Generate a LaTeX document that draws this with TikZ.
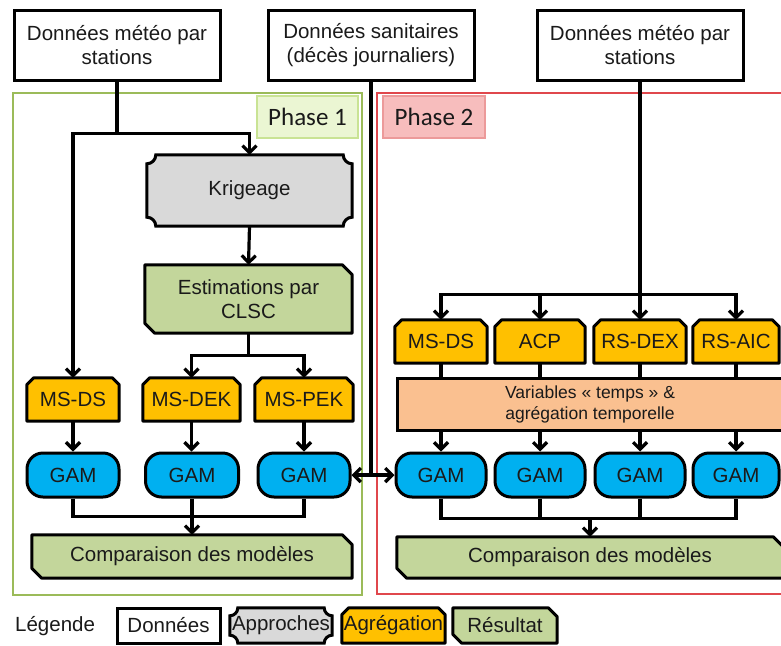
\documentclass[tikz,border=0pt]{standalone}
\usepackage{fontspec}
\setmainfont{Liberation Sans}
\newfontfamily\phasefont{Carlito}
\usetikzlibrary{arrows.meta,backgrounds,calc}
\pgfdeclarelayer{framelayer}
\pgfsetlayers{framelayer,background,main}
\definecolor{cOrange}{HTML}{FFC000}
\definecolor{cPeach}{HTML}{FAC090}
\definecolor{cGreen}{HTML}{C3D69B}
\definecolor{cGray}{HTML}{D9D9D9}
\definecolor{cBlue}{HTML}{00B0F0}
\definecolor{cFrameG}{HTML}{9BBB59}
\definecolor{cFrameR}{HTML}{E0474C}
\definecolor{cPhA}{HTML}{EBF6D3}
\definecolor{cPhAb}{HTML}{C9E394}
\definecolor{cPhB}{HTML}{F7BDBD}
\definecolor{cPhBb}{HTML}{EC9A9A}
\definecolor{cText}{HTML}{1A1A1A}

\newcommand{\plaqueShape}[3]{\path[fill=#2,draw=black,line width=3pt]
  let \p1=(#1.south west), \p2=(#1.north east) in
  ({\x1},{\y1+#3}) -- ({\x1},{\y2-#3}) arc[start angle=-90,end angle=0,radius=#3]
  -- ({\x2-#3},{\y2}) arc[start angle=180,end angle=270,radius=#3]
  -- ({\x2},{\y1+#3}) arc[start angle=90,end angle=180,radius=#3]
  -- ({\x1+#3},{\y1}) arc[start angle=0,end angle=90,radius=#3] -- cycle;}
\newcommand{\snipTop}[3]{\path[fill=#2,draw=black,line width=3pt,line join=round]
  let \p1=(#1.south west), \p2=(#1.north east) in
  (\x1,\y1) -- ({\x1},{\y2-#3}) -- ({\x1+#3},{\y2}) -- ({\x2-#3},{\y2})
  -- ({\x2},{\y2-#3}) -- (\x2,\y1) -- cycle;}
\newcommand{\snipDiag}[3]{\path[fill=#2,draw=black,line width=3pt,line join=round]
  let \p1=(#1.south west), \p2=(#1.north east) in
  (\x1,\y2) -- ({\x2-#3},{\y2}) -- ({\x2},{\y2-#3}) -- (\x2,\y1)
  -- ({\x1+#3},{\y1}) -- ({\x1},{\y1+#3}) -- cycle;}

\tikzset{
  txt/.style={inner sep=0pt, align=center, text=cText, font=\fontsize{20.5}{24}\selectfont},
  databox/.style={txt, draw=black, line width=3pt, fill=white},
  gambox/.style={txt, draw=black, line width=3pt, fill=cBlue, rounded corners=16pt},
  conn/.style={draw=black, line width=3.2pt},
  arr/.style={conn, -{Straight Barb[length=7pt,width=14pt]}},
  darr/.style={conn, {Straight Barb[length=7pt,width=14pt]}-{Straight Barb[length=7pt,width=14pt]}},
  phaselabel/.style={inner sep=0pt, font=\phasefont\fontsize{25}{28}\selectfont, text=cText, line width=1.2pt}
}

\begin{document}
\begin{tikzpicture}[x=1pt,y=-1pt]
\useasboundingbox (0,0) rectangle (781,645);
\clip (0,0) rectangle (781,645);

% frames
\begin{pgfonlayer}{framelayer}
\fill[white] (0,0) rectangle (781,645);
\draw[cFrameG, line width=2.4pt] (13,93) rectangle (362,595);
\draw[cFrameR, line width=2.4pt] (377,93) rectangle (800,594);
\end{pgfonlayer}
\node[phaselabel, fill=cPhA, draw=cPhAb, minimum width=101pt, minimum height=42pt] (ph1) at (307.5,117) {Phase 1};
\node[phaselabel, fill=cPhB, draw=cPhBb, minimum width=102pt, minimum height=42pt] (ph2) at (434,117) {Phase 2};

% data boxes
\node[databox, minimum width=206pt, minimum height=70pt] (d1) at (117,45) {Données météo par\\stations};
\node[databox, minimum width=206pt, minimum height=70pt] (d2) at (371,45) {Données sanitaires\\(décès journaliers)};
\node[databox, minimum width=206pt, minimum height=70pt] (d3) at (640,45) {Données météo par\\stations};

% phase 1
\node[txt, minimum width=205pt, minimum height=71pt] (krig) at (249.5,190.5) {Krigeage};
\node[txt, minimum width=207pt, minimum height=68pt] (est) at (248.5,299) {Estimations par\\CLSC};
\node[txt, minimum width=92pt, minimum height=43pt] (msds1) at (73,399.5) {MS-DS};
\node[txt, minimum width=97pt, minimum height=43pt] (msdek) at (191.5,399.5) {MS-DEK};
\node[txt, minimum width=98pt, minimum height=43pt] (mspek) at (304,399.5) {MS-PEK};
\node[gambox, minimum width=92pt, minimum height=44pt] (gam1) at (73,475) {GAM};
\node[gambox, minimum width=93pt, minimum height=44pt] (gam2) at (192,475) {GAM};
\node[gambox, minimum width=92pt, minimum height=44pt] (gam3) at (304,475) {GAM};
\node[txt, minimum width=320pt, minimum height=43pt] (comp1) at (192,556.5) {Comparaison des modèles};

% phase 2
\node[txt, minimum width=92pt, minimum height=43pt] (p2ms) at (441,341.5) {MS-DS};
\node[txt, minimum width=90pt, minimum height=43pt] (acp) at (540,341.5) {ACP};
\node[txt, minimum width=92pt, minimum height=43pt] (rsdex) at (640,341.5) {RS-DEX};
\node[txt, minimum width=86pt, minimum height=43pt] (rsaic) at (736,341.5) {RS-AIC};
\node[txt, draw=black, line width=3pt, fill=cPeach, minimum width=386pt, minimum height=52pt,
      font=\fontsize{17.5}{21}\selectfont] (vars) at (590,404) {Variables « temps » \&\\agrégation temporelle};
\node[gambox, minimum width=90pt, minimum height=44pt] (g5) at (441,475) {GAM};
\node[gambox, minimum width=90pt, minimum height=44pt] (g6) at (540,475) {GAM};
\node[gambox, minimum width=90pt, minimum height=44pt] (g7) at (640,475) {GAM};
\node[gambox, minimum width=86pt, minimum height=44pt] (g8) at (736,475) {GAM};
\node[txt, minimum width=386pt, minimum height=41pt] (comp2) at (590,557.5) {Comparaison des modèles};

% legend
\node[txt, anchor=west] (leg) at (15,626) {Légende};
\node[databox, minimum width=103pt, minimum height=35pt] (ld) at (168.5,625.5) {Données};
\node[txt, minimum width=102pt, minimum height=35pt] (la) at (281,625.5) {Approches};
\node[txt, minimum width=103pt, minimum height=35pt] (lg) at (393.5,625.5) {Agrégation};
\node[txt, minimum width=104pt, minimum height=35pt] (lr) at (505,625.5) {Résultat};

% custom shapes behind texts
\begin{pgfonlayer}{background}
\plaqueShape{krig}{cGray}{9pt}
\snipDiag{est}{cGreen}{10pt}
\snipTop{msds1}{cOrange}{7pt}
\snipTop{msdek}{cOrange}{7pt}
\snipTop{mspek}{cOrange}{7pt}
\snipDiag{comp1}{cGreen}{10pt}
\snipTop{p2ms}{cOrange}{7pt}
\snipTop{acp}{cOrange}{7pt}
\snipTop{rsdex}{cOrange}{7pt}
\snipTop{rsaic}{cOrange}{7pt}
\snipDiag{comp2}{cGreen}{10pt}
\plaqueShape{la}{cGray}{8pt}
\snipTop{lg}{cOrange}{7pt}
\snipDiag{lr}{cGreen}{9pt}
\end{pgfonlayer}

% connectors phase 1
\draw[conn] (d1.south) -- ++(0,52) coordinate (j1);
\draw[arr] (j1) -| (msds1.north);
\draw[arr] (j1) -| (krig.north);
\draw[arr] (krig.south) -- (est.north);
\draw[conn] (est.south) -- ++(0,22) coordinate (j2);
\draw[arr] (j2) -| (msdek.north);
\draw[arr] (j2) -| (mspek.north);
\draw[arr] (msds1.south) -- (gam1.north);
\draw[arr] (msdek.south) -- (gam2.north -| msdek.south);
\draw[arr] (mspek.south) -- (gam3.north);
\draw[conn] (gam1.south) -- ++(0,18) -| (gam3.south);
\draw[arr] (gam2.south) -- (comp1.north);

% connectors phase 2
\draw[conn] (d3.south) -- ++(0,213) coordinate (j3);
\draw[arr] (j3) -| (p2ms.north);
\draw[arr] (j3) -| (acp.north);
\draw[arr] (j3) -- (rsdex.north);
\draw[arr] (j3) -| (rsaic.north);
\draw[conn] (p2ms.south) -- (p2ms.south |- vars.north);
\draw[conn] (acp.south) -- (acp.south |- vars.north);
\draw[conn] (rsdex.south) -- (rsdex.south |- vars.north);
\draw[conn] (rsaic.south) -- (rsaic.south |- vars.north);
\draw[arr] (vars.south -| g5.north) -- (g5.north);
\draw[arr] (vars.south -| g6.north) -- (g6.north);
\draw[arr] (vars.south -| g7.north) -- (g7.north);
\draw[arr] (vars.south -| g8.north) -- (g8.north);
\draw[conn] (g5.south) -- ++(0,20) coordinate (h2) -| (g8.south);
\draw[conn] (g6.south) -- (g6.south |- h2);
\draw[conn] (g7.south) -- (g7.south |- h2);
\draw[arr] (comp2.north |- h2) -- (comp2.north);

% sanitary data link
\draw[conn] (d2.south) -- (d2.south |- gam3.east);
\draw[darr] (gam3.east) -- (g5.west);
\end{tikzpicture}
\end{document}
